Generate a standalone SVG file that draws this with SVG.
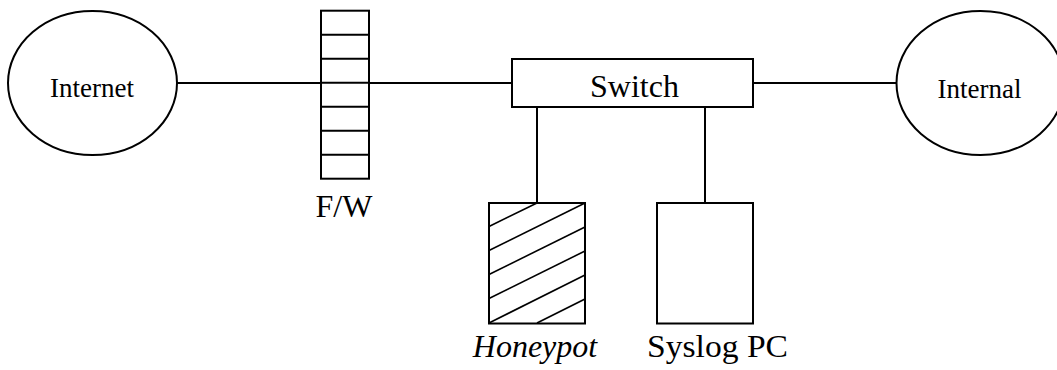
<svg xmlns="http://www.w3.org/2000/svg" width="1057" height="370" viewBox="0 0 1057 370">
  <style>
    .shape { fill: #ffffff; stroke: #000000; stroke-width: 2; }
    .line { fill: none; stroke: #000000; stroke-width: 2; }
    .hatch { fill: none; stroke: #000000; stroke-width: 1.6; }
    .lbl { font-family: "Liberation Serif", "Times New Roman", serif; fill: #000000; text-anchor: middle; }
    .small { font-size: 27px; }
    .big { font-size: 32px; }
    .it { font-style: italic; }
  </style>
  <rect x="0" y="0" width="1057" height="370" fill="#ffffff"/>
  <g id="connectors">
    <line class="line" x1="177" y1="83" x2="512" y2="83"/>
    <line class="line" x1="753" y1="83" x2="897" y2="83"/>
    <line class="line" x1="537" y1="107" x2="537" y2="203"/>
    <line class="line" x1="705" y1="107" x2="705" y2="203"/>
  </g>
  <g id="internet">
    <ellipse class="shape" cx="92.5" cy="83" rx="84.5" ry="72"/>
    <text class="lbl small" x="92" y="97">Internet</text>
  </g>
  <g id="internal">
    <ellipse class="shape" cx="980.5" cy="83" rx="84" ry="72"/>
    <text class="lbl small" x="979.5" y="97.5">Internal</text>
  </g>
  <g id="firewall">
    <rect class="shape" x="321" y="10.7" width="48" height="168" fill="none"/>
    <line class="line" x1="321" y1="34.7" x2="369" y2="34.7"/>
    <line class="line" x1="321" y1="58.7" x2="369" y2="58.7"/>
    <line class="line" x1="321" y1="82.7" x2="369" y2="82.7"/>
    <line class="line" x1="321" y1="106.7" x2="369" y2="106.7"/>
    <line class="line" x1="321" y1="130.7" x2="369" y2="130.7"/>
    <line class="line" x1="321" y1="154.7" x2="369" y2="154.7"/>
    <text class="lbl big" x="344" y="217">F/W</text>
  </g>
  <g id="switch">
    <rect class="shape" x="512" y="59" width="241" height="48"/>
    <text class="lbl big" x="634.5" y="97">Switch</text>
  </g>
  <g id="honeypot">
    <rect class="shape" x="489" y="203" width="96" height="120.5"/>
    <line class="hatch" x1="489" y1="226.5" x2="537" y2="203"/>
    <line class="hatch" x1="489" y1="250.5" x2="585" y2="203"/>
    <line class="hatch" x1="489" y1="274.5" x2="585" y2="227"/>
    <line class="hatch" x1="489" y1="298.5" x2="585" y2="251"/>
    <line class="hatch" x1="489" y1="323" x2="585" y2="275"/>
    <line class="hatch" x1="537" y1="323" x2="585" y2="299"/>
    <text class="lbl big it" x="535" y="356.5">Honeypot</text>
  </g>
  <g id="syslog">
    <rect class="shape" x="657" y="203" width="96" height="120.5"/>
    <text class="lbl big" x="717.5" y="356.5" textLength="141" lengthAdjust="spacingAndGlyphs">Syslog PC</text>
  </g>
</svg>
